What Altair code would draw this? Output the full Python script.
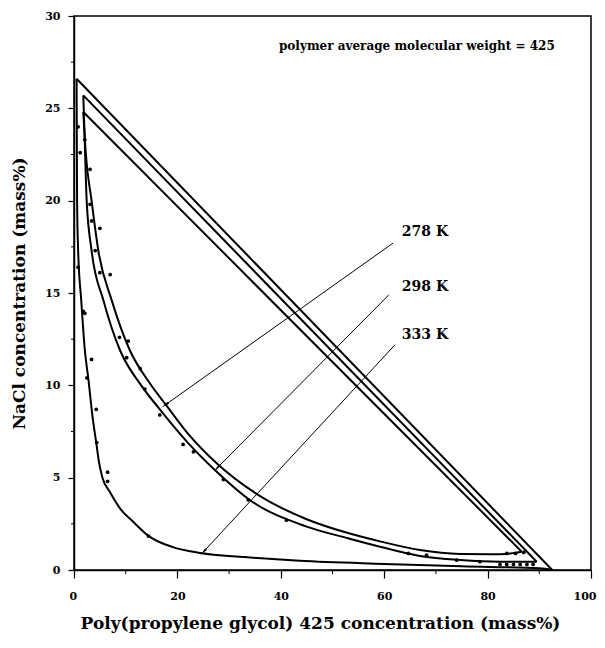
import math
import altair as alt
import pandas as pd

# ---- data ----
c278_x = [1.8, 2.3, 3.4, 4.7, 7.3, 10.8, 14.7, 17.9, 22.0, 27.6, 36.0, 45.0, 53.0, 59.2, 66.9, 74.7, 82.4, 86.6]
c278_y = [24.8, 22.5, 20.0, 17.3, 14.6, 11.9, 10.1, 8.9, 7.4, 5.78, 4.0, 2.75, 2.0, 1.55, 1.08, 0.87, 0.85, 0.99]

c298_x = [1.8, 2.1, 2.45, 3.4, 5.7, 8.9, 13.0, 16.6, 22.0, 27.6, 34.0, 45.0, 53.0, 59.2, 66.9, 74.7, 82.4, 89.5]
c298_y = [25.7, 23.0, 20.0, 17.3, 14.6, 11.9, 10.0, 8.7, 6.9, 5.32, 3.79, 2.35, 1.72, 1.26, 0.76, 0.54, 0.45, 0.45]

c333_x = [0.5, 0.55, 0.6, 0.8, 1.4, 2.1, 2.8, 3.5, 4.4, 4.8, 5.5, 7.0, 9.0, 11.5, 14.4, 19.0, 24.4, 33.0, 43.7, 60.0, 75.0, 90.1, 92.5]
c333_y = [26.6, 23.0, 20.0, 17.3, 14.6, 11.9, 10.3, 8.5, 6.7, 5.9, 5.0, 4.2, 3.3, 2.6, 1.85, 1.25, 0.92, 0.7, 0.5, 0.33, 0.2, 0.09, 0.0]

# tie lines (end points)
tie_series = ["278 K", "278 K", "298 K", "298 K", "333 K", "333 K"]
tie_x = [1.8, 86.6, 1.8, 89.5, 0.5, 92.5]
tie_y = [24.8, 0.99, 25.7, 0.45, 26.6, 0.0]

# experimental points
pt_x = [0.8, 1.2, 2.1, 3.1, 3.1, 3.4, 5.0, 4.1, 5.0, 7.0, 0.8, 2.1, 1.8, 3.4, 2.5, 4.3, 4.4, 6.5, 6.5,
        14.4, 8.8, 10.5, 10.2, 12.8, 13.7, 16.6, 21.1, 23.1, 28.9, 33.7, 41.1,
        64.7, 68.2, 74.0, 78.5, 83.7, 85.4, 87.0, 82.4, 83.7, 85.0, 86.3, 87.6, 88.8]
pt_y = [24.0, 22.6, 23.3, 21.7, 19.8, 18.9, 18.5, 17.3, 16.1, 16.0, 16.4, 13.9, 14.0, 11.4, 10.4, 8.7, 6.9, 5.3, 4.8,
        1.84, 12.6, 12.4, 11.5, 10.9, 9.8, 8.4, 6.8, 6.4, 4.9, 3.8, 2.7,
        0.9, 0.8, 0.54, 0.45, 0.9, 0.9, 0.95, 0.3, 0.3, 0.3, 0.3, 0.3, 0.3]

# arrows: label, start, tip
arrow_labels = ["278 K", "298 K", "333 K"]
arrow_x0 = [61.7, 60.9, 62.1]
arrow_y0 = [17.7, 14.9, 12.2]
arrow_x1 = [17.6, 27.6, 25.0]
arrow_y1 = [8.93, 5.5, 0.97]
label_x = [63.4, 63.4, 63.4]
label_y = [18.3, 15.3, 12.7]

note_text = "polymer average molecular weight = 425"

x_ticks = [0, 20, 40, 60, 80, 100]
y_ticks = [0, 5, 10, 15, 20, 25, 30]
x_minor = [10, 30, 50, 70, 90]
y_minor = [2.5, 7.5, 12.5, 17.5, 22.5, 27.5]

W, H = 517, 554
FONT = "DejaVu Serif"

# ---- tables ----
rows = []
for name, xs_, ys_ in [("278 K", c278_x, c278_y), ("298 K", c298_x, c298_y), ("333 K", c333_x, c333_y)]:
    for i, (a, b) in enumerate(zip(xs_, ys_)):
        rows.append({"series": name, "x": a, "y": b, "o": i})
curves = pd.DataFrame(rows)
ties = pd.DataFrame({"series": tie_series, "x": tie_x, "y": tie_y})
pts = pd.DataFrame({"x": pt_x, "y": pt_y})

sx, sy = W / 100.0, H / 30.0
angles = []
for a0, b0, a1, b1 in zip(arrow_x0, arrow_y0, arrow_x1, arrow_y1):
    dx = (a1 - a0) * sx
    dy = -(b1 - b0) * sy
    angles.append(math.degrees(math.atan2(dx, -dy)) % 360)
arrows = pd.DataFrame({"label": arrow_labels, "x0": arrow_x0, "y0": arrow_y0,
                       "x1": arrow_x1, "y1": arrow_y1, "ang": angles,
                       "lx": label_x, "ly": label_y})

xs = alt.Scale(domain=[0, 100], nice=False, zero=False)
ys = alt.Scale(domain=[0, 30], nice=False, zero=False)

x_axis = alt.Axis(values=x_ticks, title="Poly(propylene glycol) 425 concentration (mass%)",
                  grid=False, tickSize=8, labelPadding=12, titlePadding=14, tickColor="black",
                  domainColor="black", labelFont=FONT, labelFontWeight="bold", labelFontSize=11,
                  labelColor="black", labelFlush=True, labelFlushOffset=5, titleFont=FONT,
                  titleFontWeight="bold", titleFontSize=17, titleColor="black", titleX=246)
y_axis = alt.Axis(values=y_ticks, title="NaCl concentration (mass%)", grid=False, tickSize=6,
                  labelPadding=8, titlePadding=16, tickColor="black", domainColor="black",
                  labelFont=FONT, labelFontWeight="bold", labelFontSize=11, labelColor="black",
                  labelFlush=False, titleFont=FONT, titleFontWeight="bold", titleFontSize=17,
                  titleColor="black")

curve_layer = alt.Chart(curves).mark_line(color="black", strokeWidth=2, interpolate="monotone").encode(
    x=alt.X("x:Q", scale=xs, axis=x_axis),
    y=alt.Y("y:Q", scale=ys, axis=y_axis),
    detail="series:N",
    order="o:Q",
)
tie_layer = alt.Chart(ties).mark_line(color="black", strokeWidth=2).encode(
    x=alt.X("x:Q", scale=xs), y=alt.Y("y:Q", scale=ys), detail="series:N")
pt_layer = alt.Chart(pts).mark_circle(color="black", size=14, opacity=1).encode(
    x=alt.X("x:Q", scale=xs), y=alt.Y("y:Q", scale=ys))
arrow_lines = alt.Chart(arrows).mark_rule(color="black", strokeWidth=1).encode(
    x=alt.X("x0:Q", scale=xs), y=alt.Y("y0:Q", scale=ys), x2="x1:Q", y2="y1:Q")
arrow_heads = alt.Chart(arrows).mark_point(
    shape="M0,-1L0.3,1L-0.3,1Z", filled=True, color="black", size=70, opacity=1).encode(
    x=alt.X("x1:Q", scale=xs), y=alt.Y("y1:Q", scale=ys), angle=alt.Angle("ang:Q", scale=None))
label_layer = alt.Chart(arrows).mark_text(
    align="left", baseline="middle", font=FONT, fontWeight="bold", fontSize=14, color="black").encode(
    x=alt.X("lx:Q", scale=xs), y=alt.Y("ly:Q", scale=ys), text="label:N")
note_layer = alt.Chart(pd.DataFrame({"t": [note_text], "x": [93.0], "y": [28.4]})).mark_text(
    align="right", baseline="middle", font=FONT, fontWeight="bold", fontSize=12, color="black").encode(
    x=alt.X("x:Q", scale=xs), y=alt.Y("y:Q", scale=ys), text="t:N")
ymin_layer = alt.Chart(pd.DataFrame({"v": y_minor})).mark_rule(color="black", strokeWidth=1).encode(
    y=alt.Y("v:Q", scale=ys), x=alt.value(-3), x2=alt.value(0))
xmin_layer = alt.Chart(pd.DataFrame({"v": x_minor})).mark_rule(color="black", strokeWidth=1).encode(
    x=alt.X("v:Q", scale=xs), y=alt.value(H), y2=alt.value(H + 4))

chart = alt.layer(
    curve_layer, tie_layer, pt_layer, arrow_lines, arrow_heads, label_layer, note_layer,
    ymin_layer, xmin_layer,
).properties(
    width=W, height=H,
    autosize=alt.AutoSizeParams(type="none"),
    padding={"left": 66, "top": 8, "right": 6, "bottom": 64},
).configure_view(stroke="black", strokeWidth=1.5).configure_axis(domainWidth=1.5, tickWidth=1.2)

chart.save("out.html", embed_options={"renderer": "svg", "actions": False})
